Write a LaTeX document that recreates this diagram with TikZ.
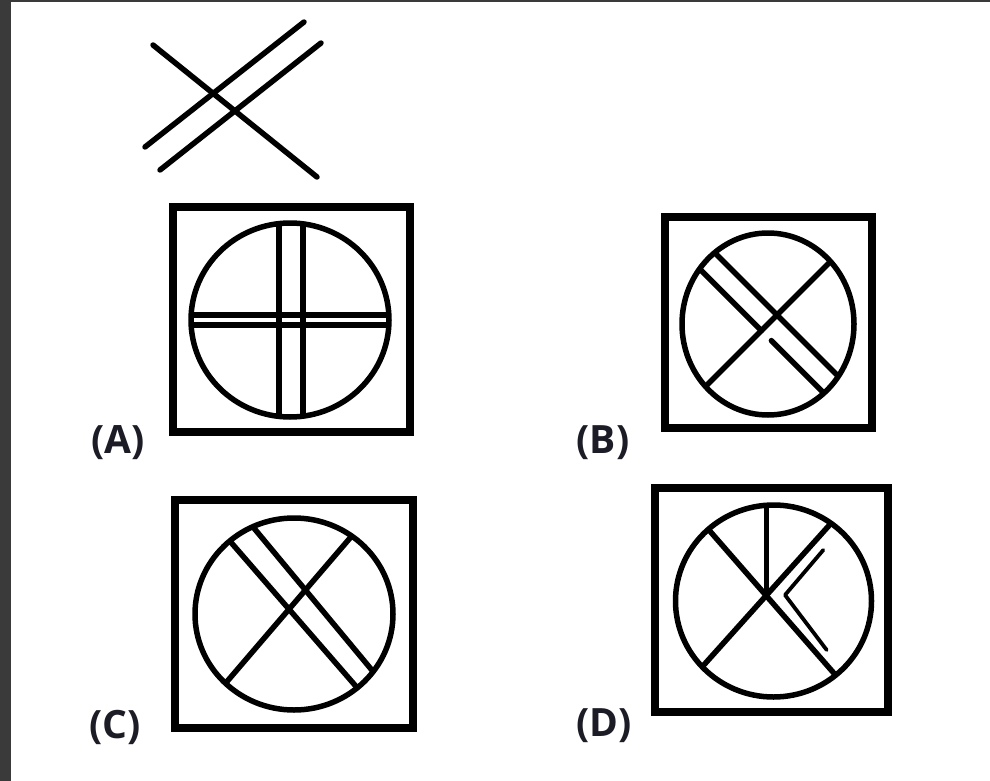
\documentclass[tikz,border=0pt]{standalone}
\usepackage{fontspec}
\setsansfont{Open Sans}
\usepackage{tikz}

\definecolor{darkedge}{RGB}{58,58,58}
\definecolor{labelink}{RGB}{28,28,38}

\tikzset{
    frame/.style={line width=7.5pt, line cap=butt},
    ring/.style={line width=5.5pt},
    bar/.style={line width=5.5pt, line cap=round},
    thinbar/.style={line width=3.8pt, line cap=round, line join=round},
    optlabel/.style={font=\sffamily\bfseries\fontsize{39}{42}\selectfont, text=labelink, inner sep=0pt}
}

\begin{document}
\begin{tikzpicture}[x=1pt,y=-1pt]
    % Page and dark edges
    \fill[white] (0,0) rectangle (990,781);
    \fill[darkedge] (0,0) rectangle (11,781);
    \fill[darkedge] (0,0) rectangle (990,2);
    \useasboundingbox (0,0) rectangle (990,781);

    % Question figure - one line across a double line
    \begin{scope}
        \draw[bar] (153,45) -- (317,177);
        \draw[bar] (145,147) -- (304,22);
        \draw[bar] (160,170) -- (321,43);
    \end{scope}

    % Option A - double lines straight across
    \begin{scope}[shift={(290,320)}]
        \draw[frame] (-117,-113) rectangle (120,112);
        \begin{scope}
            \clip (0,0) ellipse (99 and 97);
            \draw[bar] (-11,-110) -- (-11,110); % left upright
            \draw[bar] (13,-110) -- (13,110);   % right upright
            \draw[bar] (-110,-5) -- (110,-5);   % upper bar
            \draw[bar] (-110,5) -- (110,5);     % lower bar
        \end{scope}
        \draw[ring] (0,0) ellipse (99 and 97);
    \end{scope}
    \node[optlabel] (labA) at (118,443) {(A)};

    % Option B - lower line broken past the crossing
    \begin{scope}[shift={(768,324)}]
        \draw[frame] (-103,-107) rectangle (104,104);
        \begin{scope}
            \clip (0,0) ellipse (86 and 91);
            \draw[bar] (-111,111) -- (129,-129);     % single line
            \draw[bar] (-111,-129) -- (129,111);     % upper of pair
            \draw[bar] (-126.6,-113.4) -- (-6.6,6.6); % lower of pair, first part
            \draw[bar] (3.4,16.6) -- (123.4,136.6);  % lower of pair, second part
        \end{scope}
        \draw[ring] (0,0) ellipse (86 and 91);
    \end{scope}
    \node[optlabel] (labB) at (603,443) {(B)};

    % Option C - double line crossing the single line
    \begin{scope}[shift={(294,614)}]
        \draw[frame] (-119,-114) rectangle (119,114);
        \begin{scope}
            \clip (0,0) ellipse (99 and 96);
            \draw[bar] (-83.7,87) -- (72.3,-95);       % single line
            \draw[bar] (-53,-101.5) -- (96.5,78.5);    % upper of pair
            \draw[bar] (-78.7,-89.7) -- (77.3,90);     % lower of pair
        \end{scope}
        \draw[ring] (0,0) ellipse (99 and 96);
    \end{scope}
    \node[optlabel] (labC) at (115,727) {(C)};

    % Option D - cross, upright and bent line
    \begin{scope}[shift={(773.5,601)}]
        \draw[frame] (-118.5,-113) rectangle (114.5,111);
        \begin{scope}
            \clip (0,0) ellipse (98 and 96);
            \draw[bar] (-82.7,78.5) -- (69,-90.5);   % single line
            \draw[bar] (-77.5,-85.8) -- (72,85.5);   % other line
            \draw[bar] (-6.8,-110) -- (-6.8,-6);     % upright
        \end{scope}
        \draw[thinbar] (49.8,-51) -- (11.5,-6) -- (53.2,49); % bent line
        \draw[ring] (0,0) ellipse (98 and 96);
    \end{scope}
    \node[optlabel] (labD) at (604,726) {(D)};
\end{tikzpicture}
\end{document}
